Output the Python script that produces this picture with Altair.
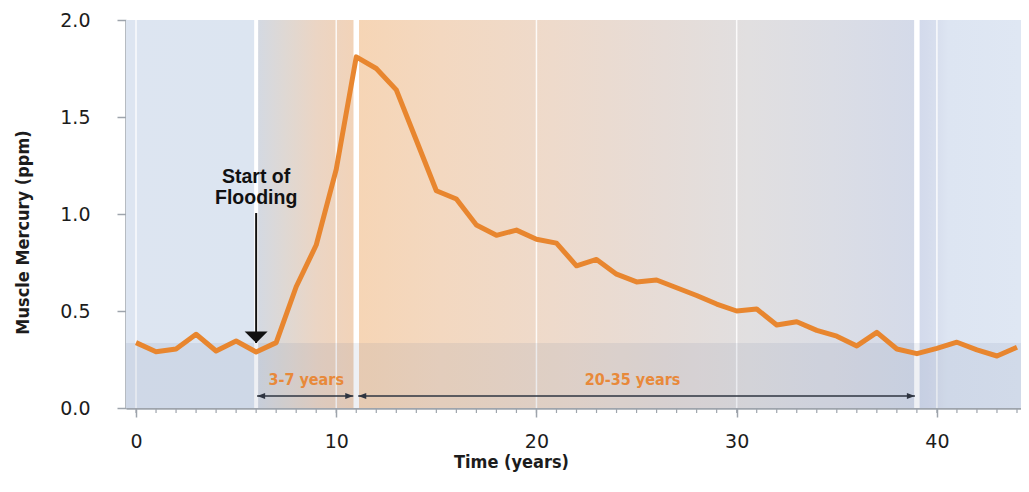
import altair as alt
import pandas as pd

# ---------------- data ----------------
years = list(range(0, 45))
mercury = [0.337, 0.29, 0.304, 0.38, 0.294, 0.345, 0.289, 0.337, 0.625, 0.84, 1.23,
           1.81, 1.75, 1.64, 1.38, 1.12, 1.077, 0.943, 0.89, 0.917, 0.87, 0.85, 0.733,
           0.766, 0.69, 0.65, 0.66, 0.62, 0.58, 0.536, 0.50, 0.51, 0.428, 0.445,
           0.40, 0.37, 0.32, 0.39, 0.304, 0.28, 0.307, 0.339, 0.30, 0.268, 0.313]

zone_start = [-0.5, 6, 11, 39]
zone_end = [6, 11, 39, 44.2]
major_lines = [0, 10, 20, 30, 40]
phase_lines = [6, 11, 39]
minor_ticks = list(range(0, 45))
x_tick_values = [0, 10, 20, 30, 40]
y_tick_values = [0, 0.5, 1.0, 1.5, 2.0]
background_level = 0.335

flood_x = 6
flood_labels = ["Start of", "Flooding"]
flood_label_y = [1.16, 1.052]
flood_arrow_top = 1.005
flood_arrow_tip = 0.335

period_start = [6.05, 11.1]
period_end = [10.85, 38.9]
period_y = [0.062, 0.062]
period_labels = ["3-7 years", "20-35 years"]
period_label_x = [8.5, 24.8]
period_label_y = [0.119, 0.119]

# ---------------- styling ----------------
ORANGE = "#e8862f"
AXIS_GREY = "#9ea4ac"
TEXT = "#1c1c1c"
COND = "DejaVu Sans Condensed, Liberation Sans Narrow, DejaVu Sans, sans-serif"

x_scale = alt.Scale(domain=[zone_start[0], zone_end[-1]], nice=False, zero=False)
y_scale = alt.Scale(domain=[0, 2], nice=False)

x_axis = alt.Axis(values=x_tick_values, format="d", grid=False, title="Time (years)",
                  domainColor=AXIS_GREY, domainWidth=2.5, tickColor=AXIS_GREY,
                  tickWidth=1.5, tickSize=9, labelPadding=15, labelFont="DejaVu Sans",
                  labelFontSize=19, labelColor=TEXT, titleFont=COND, titleFontSize=18,
                  titleFontWeight="bold", titleColor=TEXT, titleX=385, titleY=54,
                  titleAlign="center", titleBaseline="middle")
y_axis = alt.Axis(values=y_tick_values, format=".1f", grid=False,
                  title="Muscle Mercury (ppm)",
                  domainColor=AXIS_GREY, domainWidth=2.5, tickColor=AXIS_GREY,
                  tickWidth=1.5, tickSize=9, labelPadding=27, labelFont="DejaVu Sans",
                  labelFontSize=19, labelColor=TEXT, titleFont=COND, titleFontSize=18,
                  titleFontWeight="bold", titleColor=TEXT, titleAngle=-90,
                  titleX=-103, titleY=212, titleAlign="center", titleBaseline="middle")


def grad(stops):
    return {"gradient": "linear", "x1": 0, "x2": 1, "y1": 0, "y2": 0,
            "stops": [{"offset": o, "color": c} for o, c in stops]}


zone_grads = [
    grad([(0, "#dde5f1"), (1, "#dce5f1")]),
    grad([(0, "#d3d9e3"), (0.3, "#dfd8d3"), (0.6, "#ebd5c4"), (1, "#f2d3b8")]),
    grad([(0, "#f6d5b5"), (0.15, "#f3d8c0"), (0.35, "#eedacb"), (0.55, "#e6dcd7"),
          (0.7, "#e1dfe0"), (0.85, "#dbdde5"), (1, "#d4dae9")]),
    grad([(0, "#d2d9eb"), (0.2, "#d8dfee"), (0.3, "#dde5f2"), (1, "#dfe7f3")]),
]

zones = pd.DataFrame({"x0": zone_start, "x1": zone_end})
layers = []
for i, g in enumerate(zone_grads):
    layers.append(
        alt.Chart(zones.iloc[[i]]).mark_rect(color=g).encode(
            x=alt.X("x0:Q", scale=x_scale, axis=x_axis), x2="x1:Q",
            y=alt.value(0), y2=alt.value("height"))
    )

grid_df = pd.DataFrame({"x": major_lines})
layers.append(
    alt.Chart(grid_df).mark_rule(color="white", strokeWidth=1.5, opacity=0.85).encode(
        x=alt.X("x:Q", scale=x_scale, axis=x_axis),
        y=alt.value(0), y2=alt.value("height"))
)

phase_df = pd.DataFrame({"x": phase_lines})
layers.append(
    alt.Chart(phase_df.iloc[[0]]).mark_rule(color="white", strokeWidth=4).encode(
        x=alt.X("x:Q", scale=x_scale, axis=x_axis),
        y=alt.value(0), y2=alt.value("height"))
)
layers.append(
    alt.Chart(phase_df.iloc[1:]).mark_rule(color="white", strokeWidth=5.5).encode(
        x=alt.X("x:Q", scale=x_scale, axis=x_axis),
        y=alt.value(0), y2=alt.value("height"))
)

band_df = pd.DataFrame({"x0": [zone_start[0]], "x1": [zone_end[-1]],
                        "y0": [0], "y1": [background_level]})
layers.append(
    alt.Chart(band_df).mark_rect(color="#61789f", opacity=0.11).encode(
        x=alt.X("x0:Q", scale=x_scale, axis=x_axis), x2="x1:Q",
        y=alt.Y("y0:Q", scale=y_scale, axis=y_axis), y2="y1:Q")
)

minor_df = pd.DataFrame({"x": minor_ticks})
layers.append(
    alt.Chart(minor_df).mark_rule(color=AXIS_GREY, strokeWidth=1.2).encode(
        x=alt.X("x:Q", scale=x_scale, axis=x_axis),
        y=alt.value({"expr": "height"}), y2=alt.value({"expr": "height + 5"}))
)

line_df = pd.DataFrame({"year": years, "mercury": mercury})
layers.append(
    alt.Chart(line_df).mark_line(color=ORANGE, strokeWidth=5, strokeJoin="round").encode(
        x=alt.X("year:Q", scale=x_scale, axis=x_axis),
        y=alt.Y("mercury:Q", scale=y_scale, axis=y_axis))
)

# Start of flooding annotation
flood_txt = pd.DataFrame({"x": [flood_x, flood_x], "y": flood_label_y, "t": flood_labels})
layers.append(
    alt.Chart(flood_txt).mark_text(font="Liberation Sans, Arial, sans-serif",
                                   fontWeight="bold", fontSize=19.5, color="#111111",
                                   align="center", baseline="alphabetic").encode(
        x=alt.X("x:Q", scale=x_scale, axis=x_axis),
        y=alt.Y("y:Q", scale=y_scale, axis=y_axis), text="t:N")
)
flood_arrow = pd.DataFrame({"x": [flood_x], "y0": [flood_arrow_top], "y1": [flood_arrow_tip]})
layers.append(
    alt.Chart(flood_arrow).mark_rule(color="#111111", strokeWidth=2).encode(
        x=alt.X("x:Q", scale=x_scale, axis=x_axis),
        y=alt.Y("y0:Q", scale=y_scale, axis=y_axis), y2="y1:Q")
)
layers.append(
    alt.Chart(flood_arrow).mark_point(shape="M-1,-1L1,-1L0,0Z", size=529, filled=True,
                                      color="#111111", opacity=1).encode(
        x=alt.X("x:Q", scale=x_scale, axis=x_axis),
        y=alt.Y("y1:Q", scale=y_scale, axis=y_axis))
)

# Period arrows
per_df = pd.DataFrame({"x0": period_start, "x1": period_end, "y": period_y})
layers.append(
    alt.Chart(per_df).mark_rule(color="#2e3440", strokeWidth=1.5).encode(
        x=alt.X("x0:Q", scale=x_scale, axis=x_axis), x2="x1:Q",
        y=alt.Y("y:Q", scale=y_scale, axis=y_axis))
)
layers.append(
    alt.Chart(per_df).mark_point(shape="M0,0L2,-0.75L2,0.75Z", size=64, filled=True,
                                 color="#2e3440", opacity=1).encode(
        x=alt.X("x0:Q", scale=x_scale, axis=x_axis),
        y=alt.Y("y:Q", scale=y_scale, axis=y_axis))
)
layers.append(
    alt.Chart(per_df).mark_point(shape="M0,0L-2,-0.75L-2,0.75Z", size=64, filled=True,
                                 color="#2e3440", opacity=1).encode(
        x=alt.X("x1:Q", scale=x_scale, axis=x_axis),
        y=alt.Y("y:Q", scale=y_scale, axis=y_axis))
)
per_txt = pd.DataFrame({"x": period_label_x, "y": period_label_y, "t": period_labels})
layers.append(
    alt.Chart(per_txt).mark_text(font=COND, fontWeight="bold", fontSize=16, color="#e8893a",
                                 align="center", baseline="alphabetic").encode(
        x=alt.X("x:Q", scale=x_scale, axis=x_axis),
        y=alt.Y("y:Q", scale=y_scale, axis=y_axis), text="t:N")
)

chart = alt.layer(*layers).properties(
    width=895, height=388,
    autosize=alt.AutoSizeParams(type="none"),
    padding={"left": 118, "top": 12, "right": 0, "bottom": 72},
    background="white",
).configure_view(stroke=None)

chart.save("out.html", embed_options={"renderer": "svg", "actions": False})
